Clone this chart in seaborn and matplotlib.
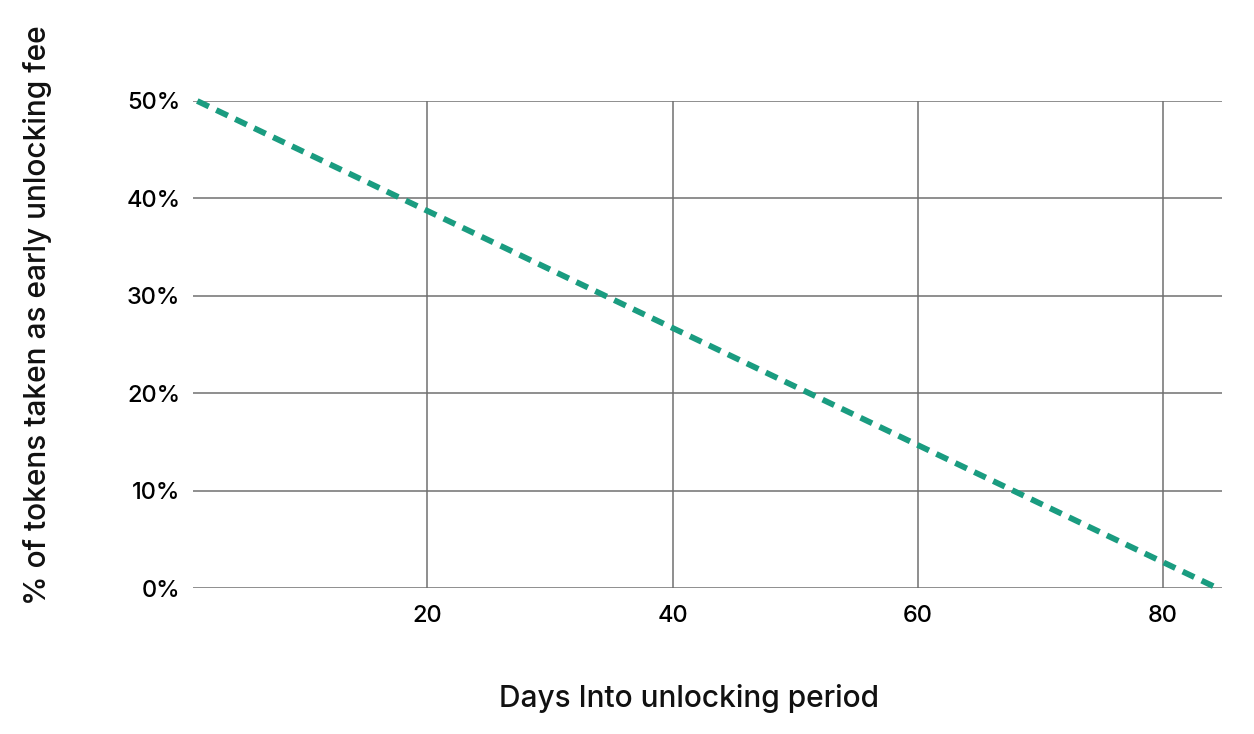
import seaborn as sns
import pandas as pd
import matplotlib.pyplot as plt
from matplotlib.ticker import FuncFormatter

# data
days = [1.25, 84.4]
fee_pct = [50, 0]
x_ticks = [20, 40, 60, 80]
y_ticks = [0, 10, 20, 30, 40, 50]

df = pd.DataFrame({"day": days, "fee": fee_pct})

sns.set_style("white")
plt.rcParams['font.family'] = ['Inter', 'DejaVu Sans']

fig = plt.figure(figsize=(12.54, 7.34), dpi=100)
ax = fig.add_axes([0.1539, 0.1989, 0.8206, 0.6635])

sns.lineplot(data=df, x="day", y="fee", ax=ax, color="#1a9c80", linewidth=4.2,
             linestyle=(0, (2.2, 1.4)), clip_on=False)

ax.set_xlim(0.9, 84.8)
ax.set_ylim(0, 50)
ax.set_xticks(x_ticks)
ax.set_yticks(y_ticks)
ax.yaxis.set_major_formatter(FuncFormatter(lambda v, p: f"{int(v)}%"))
ax.grid(True, color="#707070", linewidth=1.1)
ax.set_axisbelow(True)
for s in ax.spines.values():
    s.set_visible(False)
ax.tick_params(length=0, labelsize=17, colors="#000000")
for lbl in ax.get_xticklabels() + ax.get_yticklabels():
    lbl.set_fontweight("medium")
ax.tick_params(axis="x", pad=12)
ax.tick_params(axis="y", pad=9)

ax.set_xlabel("Days Into unlocking period", fontsize=21.5, fontweight="medium", color="#111111")
ax.set_ylabel("% of tokens taken as early unlocking fee", fontsize=21.5, fontweight="medium", color="#111111")
ax.xaxis.set_label_coords(0.482, -0.198)
ax.yaxis.set_label_coords(-0.137, 0.56)

fig.savefig("out.png", dpi=100, facecolor="white")
